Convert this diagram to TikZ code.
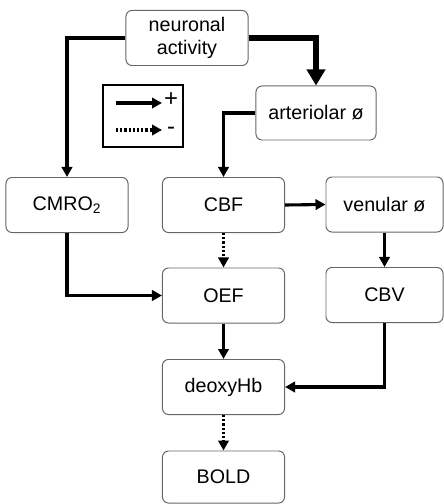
\documentclass[tikz,border=0pt]{standalone}
\usepackage{fontspec}
\setmainfont{Liberation Sans}
\usetikzlibrary{positioning}
\usetikzlibrary{arrows.meta}

\begin{document}
\begin{tikzpicture}[
  x=0.025cm, y=-0.025cm,
  font=\fontsize{14}{16.3}\selectfont
]
\tikzset{
    flowbox/.style = {rectangle, rounded corners=0.15cm, draw=black!60, line width=0.7pt, fill=white, align=center, minimum width=3.05cm, minimum height=1.375cm, inner sep=1pt},
    posarrow/.style = {line width=2.2pt, -{Triangle[length=0.25cm,width=0.26cm]}},
    negarrow/.style = {posarrow, dash pattern=on 0.055cm off 0.05cm},
    bigarrow/.style = {line width=4.2pt, -{Triangle[length=0.4cm,width=0.45cm]}},
}
\useasboundingbox (0,0) rectangle (444,504);
% boxes
\node[flowbox] (activity) at (187,38) {neuronal\\activity};
\node[flowbox, minimum width=3.0cm, minimum height=1.35cm] (arteriolar) at (316,113) {arteriolar ø};
\node[flowbox] (cmro) at (67,205) {CMRO\textsubscript{2}};
\node[flowbox] (cbf) at (223.5,205) {CBF};
\node[flowbox, minimum width=2.925cm] (venular) at (384.5,204.5) {venular ø};
\node[flowbox] (oef) at (223.5,295.5) {OEF};
\node[flowbox, minimum width=2.925cm] (cbv) at (384.5,295) {CBV};
\node[flowbox] (deoxy) at (223.5,387) {deoxyHb};
\node[flowbox, minimum height=1.3cm] (bold) at (223.5,477) {BOLD};
% legend
\node[draw, line width=1.2pt, minimum width=2cm, minimum height=1.55cm] (legend) at (143,116) {};
\coordinate (posstart) at (116,103);
\coordinate (posend) at (162,103);
\coordinate (negstart) at (116,130);
\coordinate (negend) at (162,130);
\node[font=\fontsize{17}{17}\selectfont] (plus) at (171,100) {+};
\node[font=\fontsize{17}{17}\selectfont] (minus) at (171,131) {-};
\draw[posarrow] (posstart) -- (posend);
\draw[negarrow] (negstart) -- (negend);
% connectors
\draw[posarrow] (activity.west) -| (cmro.north);
\draw[bigarrow] (activity.east) -| (arteriolar.north);
\draw[posarrow] (arteriolar.west) -| (cbf.north);
\draw[posarrow] (cbf.east) -- (venular.west);
\draw[negarrow] (cbf.south) -- (oef.north);
\draw[posarrow] (venular.south) -- (cbv.north);
\draw[posarrow] (cmro.south) |- (oef.west);
\draw[posarrow] (oef.south) -- (deoxy.north);
\draw[posarrow] (cbv.south) |- (deoxy.east);
\draw[negarrow] (deoxy.south) -- (bold.north);
\end{tikzpicture}
\end{document}
